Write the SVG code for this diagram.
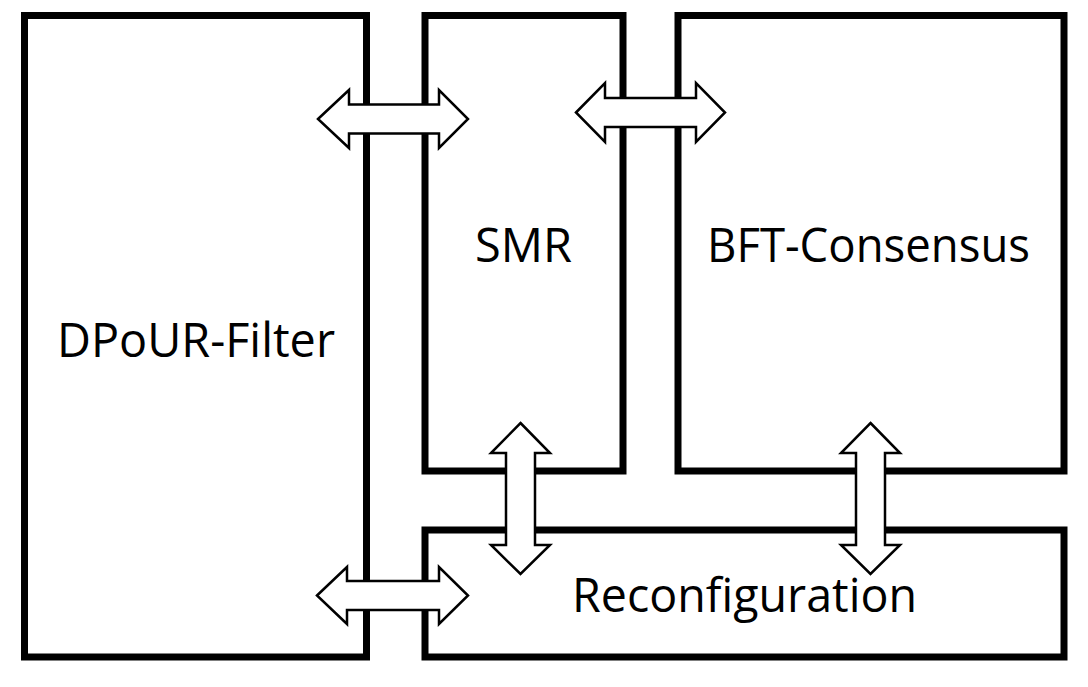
<svg xmlns="http://www.w3.org/2000/svg" width="1088" height="687" viewBox="0 0 1088 687">
<style>
.box{fill:#fff;stroke:#000;stroke-width:7}
.lbl{font-family:"Open Sans","Liberation Sans",Arial,sans-serif;font-size:47px;fill:#000;text-anchor:middle}
.arr{fill:#fff;stroke:#000;stroke-width:2.5;stroke-linejoin:miter}
</style>
<rect width="1088" height="687" fill="#fff"/>
<g id="dpour-filter">
<rect class="box" x="24.5" y="15.5" width="342" height="641.5"/>
<text class="lbl" x="196" y="357" textLength="278" lengthAdjust="spacingAndGlyphs">DPoUR-Filter</text>
</g>
<g id="smr">
<rect class="box" x="425" y="15.5" width="198" height="455.5"/>
<text class="lbl" x="523.5" y="262" textLength="97" lengthAdjust="spacingAndGlyphs">SMR</text>
</g>
<g id="bft-consensus">
<rect class="box" x="678" y="15.5" width="386" height="455.5"/>
<text class="lbl" x="868.5" y="262" textLength="323" lengthAdjust="spacingAndGlyphs">BFT-Consensus</text>
</g>
<g id="reconfiguration">
<rect class="box" x="425" y="530" width="639" height="127"/>
<text class="lbl" x="744.5" y="612" textLength="345" lengthAdjust="spacingAndGlyphs">Reconfiguration</text>
</g>
<g id="connectors">
<path class="arr" d="M318,119 L349,90 L349,104.5 L439,104.5 L439,90 L468,119 L439,148 L439,133.5 L349,133.5 L349,148 Z"/>
<path class="arr" d="M576,112.5 L605,83 L605,98 L696,98 L696,83 L725,112.5 L696,142 L696,127 L605,127 L605,142 Z"/>
<path class="arr" d="M317,595.5 L347,567 L347,581 L439,581 L439,567 L468,595.5 L439,624 L439,610 L347,610 L347,624 Z"/>
<path class="arr" d="M520.5,423 L550,453 L535,453 L535,545 L550,545 L520.5,574 L491,545 L506,545 L506,453 L491,453 Z"/>
<path class="arr" d="M870.5,423 L900,453 L885,453 L885,545 L900,545 L870.5,574 L841,545 L856,545 L856,453 L841,453 Z"/>
</g>
</svg>
